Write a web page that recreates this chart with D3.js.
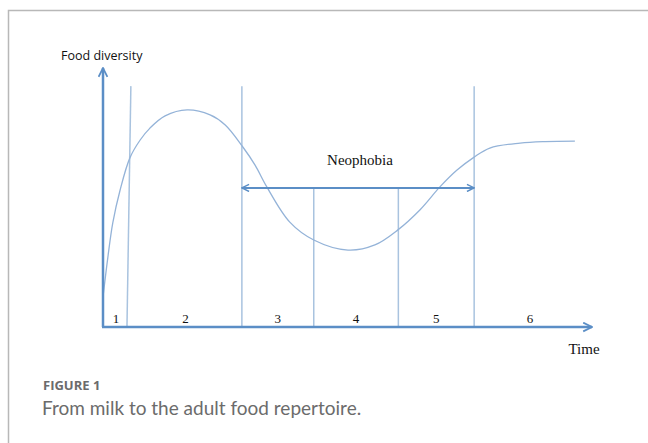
<!DOCTYPE html>
<html>
<head>
<meta charset="utf-8">
<script src="https://cdn.jsdelivr.net/npm/d3@7"></script>
<style>
  body { margin: 0; background: #fff; }
  svg { display: block; }
</style>
</head>
<body>
<div id="chart"></div>
<script>
/*
 * Food diversity over time, with phases and the neophobia window
 */

// curve of food diversity (time, diversity), both in 0..100 units
var curveTime = [0, 1, 2, 3.5, 5.5, 7.6, 9.6, 12.7, 17.2, 21.9, 25, 28.6, 31.1, 33.5, 38.2, 43.1, 50.1, 55.6, 60.3, 64.8, 68.9, 72.4, 75.9, 79.1, 85.3, 90.4, 96.5];
var curveDiversity = [11.6, 27, 40.2, 52.9, 65.3, 72.2, 76.8, 81.5, 83.8, 81.9, 78, 69.5, 62.5, 54.1, 40.5, 33.6, 29.7, 31.7, 37.5, 45.2, 54.1, 60.6, 65.6, 69.1, 71, 71.6, 71.8];

// phase boundaries
var boundaryTime = [5.3, 28.4, 43.1, 60.4, 75.9];
var boundaryTop = [93, 93, 53.7, 53.7, 93];
var boundaryLean = [0.8, 0, 0, 0, 0];

var phaseLabels = ["1", "2", "3", "4", "5", "6"];
var lastPhaseEnd = 98.7;

// neophobia window
var neophobiaStart = 28.4;
var neophobiaEnd = 75.9;
var neophobiaLevel = 53.7;

var width = 648, height = 443;

var svg = d3.select("#chart").append("svg").attr("width", width).attr("height", height);

// frame
svg.append("path").attr("d", "M8.5,443V10.5H648").attr("fill", "none").attr("stroke", "#b8b8b8").attr("stroke-width", 1.5);

var x = d3.scaleLinear().domain([0, 100]).range([103, 592]);
var y = d3.scaleLinear().domain([0, 100]).range([327, 68]);

var axisColor = "#5b8ec6";
var lineColor = "#a9c3df";

// arrow markers
var defs = svg.append("defs");
function marker(id, orient, color, w) {
  defs.append("marker").attr("id", id).attr("viewBox", "0 0 10 10").attr("refX", 9).attr("refY", 5)
    .attr("markerWidth", w).attr("markerHeight", w).attr("orient", orient).attr("markerUnits", "userSpaceOnUse")
    .append("path").attr("d", "M1,1L9,5L1,9").attr("fill", "none").attr("stroke", color).attr("stroke-width", 1.6);
}
marker("axisArrow", "auto", axisColor, 11);
marker("neoEnd", "auto", axisColor, 9);
marker("neoStart", "auto-start-reverse", axisColor, 9);

// phase boundaries
boundaryTime.forEach(function(t, i) {
  svg.append("line")
    .attr("x1", x(t - boundaryLean[i] / 2)).attr("y1", y(0))
    .attr("x2", x(t + boundaryLean[i] / 2)).attr("y2", y(boundaryTop[i]))
    .attr("stroke", lineColor).attr("stroke-width", 1.5);
});

// curve
var points = curveTime.map(function(t, i) { return [t, curveDiversity[i]]; });
svg.append("path").datum(points)
  .attr("d", d3.line().x(function(d) { return x(d[0]); }).y(function(d) { return y(d[1]); }).curve(d3.curveCatmullRom))
  .attr("fill", "none").attr("stroke", "#94b3d8").attr("stroke-width", 1.3);

// neophobia arrow
svg.append("line")
  .attr("x1", x(neophobiaStart)).attr("x2", x(neophobiaEnd))
  .attr("y1", y(neophobiaLevel)).attr("y2", y(neophobiaLevel))
  .attr("stroke", axisColor).attr("stroke-width", 2)
  .attr("marker-start", "url(#neoStart)").attr("marker-end", "url(#neoEnd)");

svg.append("text").attr("x", x((neophobiaStart + neophobiaEnd) / 2) + 2).attr("y", y(62.5))
  .attr("text-anchor", "middle").style("font-family", "'Liberation Serif', serif").style("font-size", "15px")
  .attr("fill", "#111").text("Neophobia");

// axes
svg.append("line").attr("x1", x(0)).attr("y1", y(0)).attr("x2", x(0)).attr("y2", y(100))
  .attr("stroke", axisColor).attr("stroke-width", 2.5).attr("marker-end", "url(#axisArrow)");
svg.append("line").attr("x1", x(0) - 1).attr("y1", y(0)).attr("x2", x(100)).attr("y2", y(0))
  .attr("stroke", axisColor).attr("stroke-width", 2.5).attr("marker-end", "url(#axisArrow)");

// phase numbers
var edges = [0].concat(boundaryTime).concat([lastPhaseEnd]);
phaseLabels.forEach(function(lab, i) {
  svg.append("text").attr("x", x((edges[i] + edges[i + 1]) / 2)).attr("y", y(0) - 4)
    .attr("text-anchor", "middle").style("font-family", "'Liberation Serif', serif").style("font-size", "13px")
    .attr("fill", "#111").text(lab);
});

// axis titles
svg.append("text").attr("x", 61).attr("y", 60).style("font-family", "'Open Sans', sans-serif").style("font-size", "12.5px")
  .attr("fill", "#111").text("Food diversity");
svg.append("text").attr("x", 584).attr("y", 354).attr("text-anchor", "middle")
  .style("font-family", "'Liberation Serif', serif").style("font-size", "15px").attr("fill", "#111").text("Time");

// caption
svg.append("text").attr("x", 43).attr("y", 390).style("font-family", "'Open Sans', sans-serif").style("font-size", "13px")
  .style("font-weight", "bold").attr("fill", "#6b6b6b").text("FIGURE 1");
svg.append("text").attr("x", 42).attr("y", 415).style("font-family", "'Lato', sans-serif").style("font-size", "19px")
  .attr("fill", "#6b6b6b").text("From milk to the adult food repertoire.");
</script>
</body>
</html>
